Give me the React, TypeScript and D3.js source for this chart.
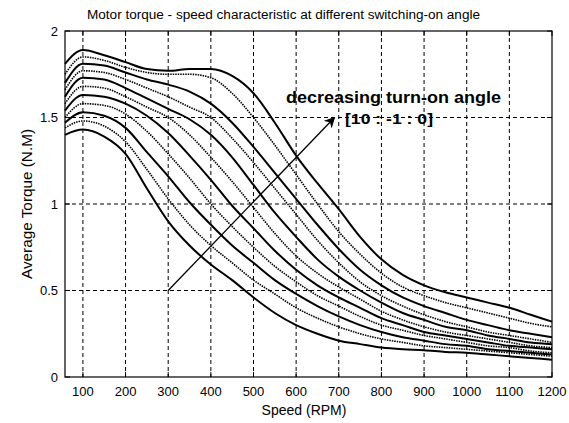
import React from "react";
import * as d3 from "d3";

const speeds = [58, 100, 150, 200, 250, 300, 350, 400, 450, 500, 550, 600, 650, 700, 750, 800, 850, 900, 950, 1000, 1050, 1100, 1150, 1200];

const angle10 = [1.81, 1.89, 1.86, 1.82, 1.78, 1.77, 1.78, 1.78, 1.74, 1.64, 1.47, 1.28, 1.12, 0.97, 0.81, 0.68, 0.59, 0.53, 0.49, 0.46, 0.43, 0.4, 0.36, 0.32];
const angle9 = [1.75, 1.85, 1.83, 1.79, 1.76, 1.75, 1.75, 1.73, 1.64, 1.5, 1.34, 1.17, 1.0, 0.84, 0.71, 0.6, 0.52, 0.47, 0.43, 0.4, 0.37, 0.34, 0.31, 0.29];
const angle8 = [1.7, 1.81, 1.8, 1.76, 1.72, 1.69, 1.65, 1.58, 1.47, 1.33, 1.18, 1.03, 0.88, 0.74, 0.62, 0.53, 0.46, 0.41, 0.37, 0.33, 0.3, 0.27, 0.25, 0.23];
const angle7 = [1.66, 1.77, 1.76, 1.72, 1.67, 1.62, 1.56, 1.5, 1.38, 1.24, 1.09, 0.94, 0.79, 0.66, 0.55, 0.47, 0.41, 0.36, 0.32, 0.29, 0.26, 0.24, 0.22, 0.2];
const angle6 = [1.62, 1.73, 1.72, 1.67, 1.61, 1.55, 1.49, 1.4, 1.27, 1.11, 0.95, 0.81, 0.68, 0.58, 0.5, 0.43, 0.37, 0.33, 0.29, 0.27, 0.24, 0.22, 0.2, 0.19];
const angle5 = [1.58, 1.68, 1.67, 1.62, 1.56, 1.5, 1.4, 1.27, 1.13, 0.98, 0.83, 0.7, 0.6, 0.52, 0.45, 0.38, 0.33, 0.29, 0.26, 0.24, 0.22, 0.2, 0.18, 0.17];
const angle4 = [1.54, 1.63, 1.62, 1.58, 1.51, 1.41, 1.28, 1.14, 0.99, 0.86, 0.73, 0.62, 0.53, 0.46, 0.4, 0.34, 0.3, 0.26, 0.24, 0.22, 0.2, 0.18, 0.17, 0.16];
const angle3 = [1.5, 1.58, 1.57, 1.52, 1.42, 1.29, 1.15, 1.0, 0.87, 0.75, 0.64, 0.55, 0.47, 0.41, 0.35, 0.3, 0.27, 0.24, 0.22, 0.2, 0.18, 0.17, 0.15, 0.14];
const angle2 = [1.47, 1.53, 1.51, 1.44, 1.3, 1.16, 1.01, 0.88, 0.76, 0.66, 0.56, 0.48, 0.41, 0.35, 0.3, 0.26, 0.23, 0.21, 0.19, 0.18, 0.16, 0.15, 0.14, 0.13];
const angle1 = [1.44, 1.48, 1.45, 1.36, 1.2, 1.03, 0.88, 0.76, 0.66, 0.56, 0.48, 0.4, 0.34, 0.29, 0.25, 0.22, 0.2, 0.18, 0.17, 0.16, 0.15, 0.14, 0.13, 0.12];
const angle0 = [1.4, 1.43, 1.39, 1.29, 1.09, 0.9, 0.76, 0.65, 0.56, 0.46, 0.37, 0.3, 0.25, 0.21, 0.19, 0.17, 0.16, 0.155, 0.145, 0.14, 0.13, 0.12, 0.11, 0.1];

const series = [angle10, angle9, angle8, angle7, angle6, angle5, angle4, angle3, angle2, angle1, angle0];

const xTicks = [100, 200, 300, 400, 500, 600, 700, 800, 900, 1000, 1100, 1200];
const yTicks = [0, 0.5, 1, 1.5, 2];
const yTickLabels = ["0", "0.5", "1", "1.5", "2"];

const arrowFrom = [300, 0.5];
const arrowTo = [690, 1.5];

const W = 569;
const H = 423;
const FONT = "'Liberation Sans', Arial, Helvetica, sans-serif";

export default function App() {
  const x = d3.scaleLinear().domain([58, 1200]).range([65, 552]);
  const y = d3.scaleLinear().domain([0, 2]).range([377, 31]);
  const line = d3
    .line<number>()
    .x((_, i) => x(speeds[i]))
    .y((d) => y(d))
    .curve(d3.curveMonotoneX);

  const [x0, x1] = x.range();
  const [y0, y1] = y.range();

  return (
    <svg
      width={W}
      height={H}
      viewBox={`0 0 ${W} ${H}`}
      style={{ position: "absolute", left: 0, top: 0, background: "#fff" }}
    >
      <defs>
        <marker id="ah" viewBox="0 0 10 10" refX="9" refY="5" markerWidth="11" markerHeight="11" orient="auto" markerUnits="userSpaceOnUse">
          <path d="M0,0 L10,5 L0,10 L3,5 Z" fill="#000" />
        </marker>
      </defs>
      <rect x={0} y={0} width={W} height={H} fill="#fff" />
      {/* grid */}
      <g stroke="#000" strokeWidth={1} strokeDasharray="4,3">
        {xTicks.slice(0, -1).map((t) => (
          <line key={"gx" + t} x1={x(t)} x2={x(t)} y1={y1} y2={y0} />
        ))}
        {yTicks.slice(1, -1).map((t) => (
          <line key={"gy" + t} x1={x0} x2={x1} y1={y(t)} y2={y(t)} />
        ))}
      </g>
      {/* curves */}
      <g fill="none" stroke="#000">
        {series.map((s, i) => (
          <path
            key={i}
            d={line(s) || ""}
            strokeWidth={i % 2 === 0 ? 2 : 1.6}
            strokeDasharray={i % 2 === 0 ? undefined : "1.5,1"}
          />
        ))}
      </g>
      {/* frame */}
      <rect x={x0} y={y1} width={x1 - x0} height={y0 - y1} fill="none" stroke="#000" strokeWidth={1.2} />
      {/* ticks */}
      <g stroke="#000" strokeWidth={1}>
        {xTicks.map((t) => (
          <g key={"tx" + t}>
            <line x1={x(t)} x2={x(t)} y1={y0} y2={y0 - 5} />
            <line x1={x(t)} x2={x(t)} y1={y1} y2={y1 + 5} />
          </g>
        ))}
        {yTicks.map((t) => (
          <g key={"ty" + t}>
            <line x1={x0} x2={x0 + 5} y1={y(t)} y2={y(t)} />
            <line x1={x1} x2={x1 - 5} y1={y(t)} y2={y(t)} />
          </g>
        ))}
      </g>
      {/* tick labels */}
      <g fontFamily={FONT} fontSize={13} fill="#000">
        {xTicks.map((t) => (
          <text key={"lx" + t} x={x(t)} y={396} textAnchor="middle">
            {t}
          </text>
        ))}
        {yTicks.map((t, i) => (
          <text key={"ly" + t} x={58} y={y(t) + 4.5} textAnchor="end">
            {yTickLabels[i]}
          </text>
        ))}
      </g>
      {/* titles */}
      <text x={87} y={19} fontFamily={FONT} fontSize={12} textLength={393} lengthAdjust="spacingAndGlyphs">
        Motor torque - speed characteristic at different switching-on angle
      </text>
      <text x={304} y={415} fontFamily={FONT} fontSize={14} textAnchor="middle">
        Speed (RPM)
      </text>
      <text
        transform={`translate(32,${(y0 + y1) / 2}) rotate(-90)`}
        fontFamily={FONT}
        fontSize={14}
        textAnchor="middle"
        textLength={150}
        lengthAdjust="spacingAndGlyphs"
      >
        Average Torque (N.M)
      </text>
      {/* annotation */}
      <line
        x1={x(arrowFrom[0])}
        y1={y(arrowFrom[1])}
        x2={x(arrowTo[0])}
        y2={y(arrowTo[1])}
        stroke="#000"
        strokeWidth={1.3}
        markerEnd="url(#ah)"
      />
      <text x={286} y={103} fontFamily={FONT} fontSize={17} fontWeight="bold" textLength={215} lengthAdjust="spacingAndGlyphs">
        decreasing turn-on angle
      </text>
      <text x={345} y={124} fontFamily={FONT} fontSize={15} fontWeight="bold" textLength={88} lengthAdjust="spacingAndGlyphs">
        [10 : -1 : 0]
      </text>
    </svg>
  );
}
